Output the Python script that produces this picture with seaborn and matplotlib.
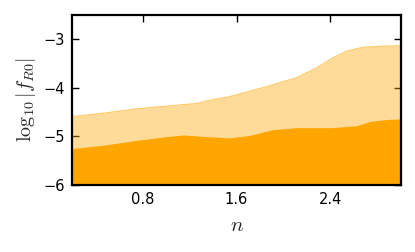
import numpy as np
import pandas as pd
import matplotlib
matplotlib.use("Agg")
import matplotlib.pyplot as plt
import seaborn as sns

# upper and lower bounds
n_upper = [0.2, 0.47, 0.75, 1.03, 1.26, 1.40, 1.54, 1.63, 1.83, 2.11, 2.28, 2.42, 2.54, 2.68, 2.85, 3.0]
f_upper = [-4.59, -4.52, -4.43, -4.37, -4.32, -4.24, -4.18, -4.12, -3.99, -3.79, -3.59, -3.38, -3.24, -3.16, -3.14, -3.13]

n_lower = [0.2, 0.47, 0.75, 0.98, 1.15, 1.32, 1.54, 1.71, 1.91, 2.11, 2.40, 2.62, 2.74, 2.88, 3.0]
f_lower = [-5.25, -5.18, -5.08, -5.01, -4.97, -5.00, -5.03, -4.98, -4.86, -4.82, -4.82, -4.78, -4.69, -4.65, -4.64]

xticks = [0.8, 1.6, 2.4]
yticks = [-6, -5, -4, -3]

sns.set_theme(style="ticks")
plt.rcParams['font.family'] = ['DejaVu Sans']
plt.rcParams['mathtext.fontset'] = 'cm'

fig, ax = plt.subplots(figsize=(4.15, 2.52), dpi=100)

up = pd.DataFrame({'n': n_upper, 'f': f_upper})
lo = pd.DataFrame({'n': n_lower, 'f': f_lower})

ax.fill_between(up['n'], -6, up['f'], color='orange', alpha=0.4, lw=0)
sns.lineplot(data=up, x='n', y='f', ax=ax, color='orange', alpha=0.6, lw=0.8)
ax.fill_between(lo['n'], -6, lo['f'], color='orange', lw=0)

ax.set_xlim(0.2, 3.0)
ax.set_ylim(-6, -2.5)
ax.set_xticks(xticks)
ax.set_xticklabels([str(t) for t in xticks])
ax.set_yticks(yticks)
ax.set_yticklabels(['\u22126', '\u22125', '\u22124', '\u22123'])
ax.tick_params(direction='in', top=True, right=True, length=5, width=1,
               labelsize=10.5, colors='black', pad=5)
for s in ax.spines.values():
    s.set_linewidth(1.6)
    s.set_color('black')

ax.set_xlabel('$n$', fontsize=15, labelpad=6)
ax.set_ylabel(r'$\log_{10}|f_{R0}|$', fontsize=14.5, labelpad=4)

fig.subplots_adjust(left=0.174, right=0.966, top=0.94, bottom=0.266)
fig.savefig('out.png', dpi=100)
